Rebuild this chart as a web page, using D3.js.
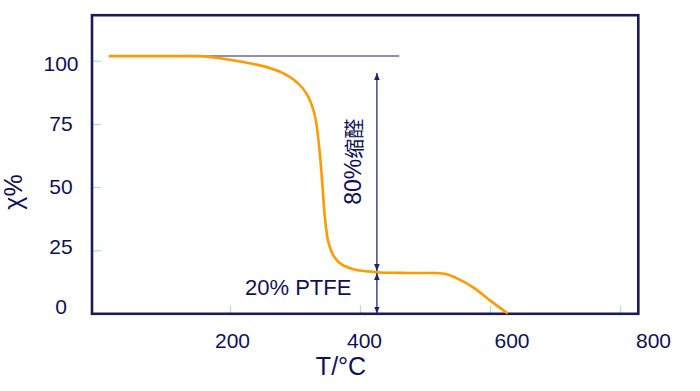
<!DOCTYPE html>
<html><head><meta charset="utf-8">
<script src="https://cdn.jsdelivr.net/npm/d3@7/dist/d3.min.js"></script>
<style>
body{margin:0;background:#fff;}
text{font-family:"Liberation Sans",Arial,sans-serif;}
</style></head>
<body><svg id="c" width="700" height="391"></svg>
<script>
// ---- data ----
const temps = [24, 154, 190, 225, 254, 275, 292, 305, 314, 320, 325, 329, 332, 336, 342, 350, 360, 375, 397, 420, 490, 505, 520, 544, 569, 594];
const mass  = [101.8, 101.8, 100.7, 99.0, 97.1, 94.8, 91.6, 87.6, 82.4, 76.0, 64.6, 51.5, 40.0, 30.5, 24.6, 21.0, 18.9, 17.4, 16.6, 16.1, 16.0, 15.6, 14.1, 10.4, 5.1, 0];
const xTickValues = [200, 400, 600, 800];
const yTickValues = [0, 25, 50, 75, 100];
const refLineT = [154, 439];
const refLineY = 101.9;
const arrowT = 407;
const arrowLevels = [95.1, 16.4, 0];
const labelAcetal = "80%缩醛";
const labelPTFE = "20% PTFE";
const xTitle = "T/°C";
const yTitle = "χ%";

const navy = "#10105a";
const svg = d3.select("#c");

// ---- scales ----
const x = d3.scaleLinear().domain([0, 800]).range([92, 652]);
const y = d3.scaleLinear().domain([0, 100]).range([313.5, 60.7]);
const xTickPos = d3.scaleLinear().domain([0, 800]).range([100, 620]);
const xLabelPos = d3.scaleLinear().domain([200, 400, 600, 800]).range([232, 364, 511.5, 653]);
const yLabelPos = d3.scaleLinear().domain([0, 25, 50, 75, 100]).range([305.7, 245.7, 186, 123, 62.5]);

// ---- ticks (light cyan, inside frame) ----
const gxt = svg.append("g").attr("transform", "translate(0,313.5)")
  .call(d3.axisBottom(xTickPos).tickValues(xTickValues).tickSize(-8).tickFormat(""));
gxt.select(".domain").remove();
gxt.selectAll("line").attr("stroke", "#a6e2ea").attr("stroke-width", 1.2);

const gyt = svg.append("g").attr("transform", "translate(92,0)")
  .call(d3.axisLeft(y).tickValues(yTickValues.filter(v => v > 0)).tickSize(-9).tickFormat(""));
gyt.select(".domain").remove();
gyt.selectAll("line").attr("stroke", "#a6e2ea").attr("stroke-width", 1.2);

// ---- tick labels ----
const gxl = svg.append("g").attr("transform", "translate(0,333)")
  .call(d3.axisBottom(xLabelPos).tickValues(xTickValues).tickSize(0).tickPadding(0));
gxl.select(".domain").remove();
gxl.selectAll("text").attr("font-size", 21).attr("fill", navy)
  .attr("font-family", "Liberation Sans, Arial, sans-serif").attr("dy", "0.72em");

const gyl = svg.append("g").attr("transform", "translate(61,0)")
  .call(d3.axisLeft(yLabelPos).tickValues(yTickValues).tickSize(0).tickPadding(0));
gyl.select(".domain").remove();
gyl.selectAll("text").attr("font-size", 21).attr("fill", navy)
  .attr("font-family", "Liberation Sans, Arial, sans-serif")
  .attr("text-anchor", "middle").attr("x", 0).attr("dy", "0.36em");

// ---- frame ----
svg.append("rect").attr("x", 92).attr("y", 15.2).attr("width", 546.3).attr("height", 298.6)
  .attr("fill", "none").attr("stroke", "#1a1a5c").attr("stroke-width", 2.6);

// ---- reference line ----
svg.append("line").attr("x1", x(refLineT[0])).attr("x2", x(refLineT[1]))
  .attr("y1", y(refLineY)).attr("y2", y(refLineY))
  .attr("stroke", "#6a6a98").attr("stroke-width", 1.5);

// ---- curve ----
const pts = temps.map((t, i) => [t, mass[i]]);
svg.append("path").datum(pts)
  .attr("d", d3.line().x(d => x(d[0])).y(d => y(d[1])).curve(d3.curveMonotoneX))
  .attr("fill", "none").attr("stroke", "#ff9a00").attr("stroke-width", 2.6);

// ---- arrows ----
const defs = svg.append("defs");
defs.append("marker").attr("id", "ah").attr("viewBox", "0 0 10 10")
  .attr("refX", 10).attr("refY", 5).attr("markerWidth", 7).attr("markerHeight", 7)
  .attr("markerUnits", "userSpaceOnUse").attr("orient", "auto-start-reverse")
  .append("path").attr("d", "M0,1 L10,5 L0,9 Z").attr("fill", "#22226a");

for (let i = 0; i < arrowLevels.length - 1; i++) {
  const ya = y(arrowLevels[i]), yb = y(arrowLevels[i + 1]);
  svg.append("line").attr("x1", x(arrowT)).attr("x2", x(arrowT))
    .attr("y1", ya + (i === 0 ? 0 : 1)).attr("y2", yb - (i === 0 ? 1 : 0))
    .attr("stroke", "#2a2a70").attr("stroke-width", 1.3)
    .attr("marker-start", "url(#ah)").attr("marker-end", "url(#ah)");
}

// ---- annotations ----
const acetal = svg.append("text").attr("transform", `translate(${x(373)},${y(60)}) rotate(-90)`)
  .attr("text-anchor", "middle").attr("dy", "0.36em")
  .attr("font-size", 23).attr("fill", navy);
acetal.append("tspan").text(labelAcetal.slice(0, 3));
acetal.append("tspan").attr("font-family", "Noto Sans CJK SC").attr("font-size", 20).attr("dy", "0.02em")
  .text(labelAcetal.slice(3));

svg.append("text").attr("x", 245).attr("y", 295)
  .attr("font-size", 22).attr("fill", navy).text(labelPTFE);

svg.append("text").attr("x", 341).attr("y", 375).attr("text-anchor", "middle")
  .attr("font-size", 25).attr("fill", navy).text(xTitle);

svg.append("text").attr("transform", "translate(13,192) rotate(-90)")
  .attr("text-anchor", "middle").attr("dy", "0.36em")
  .attr("font-size", 25).attr("fill", navy).text(yTitle);
</script></body></html>
